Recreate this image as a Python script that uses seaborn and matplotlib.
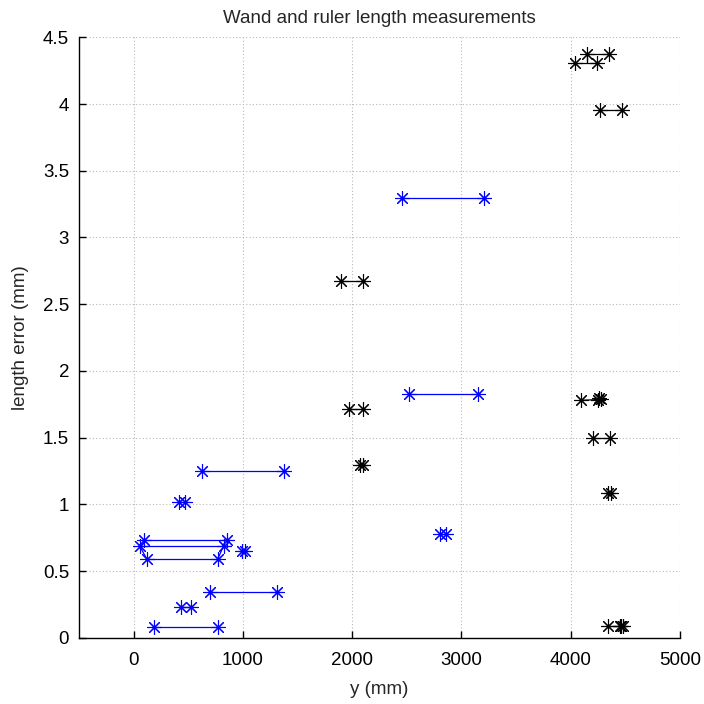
import numpy as np
import pandas as pd
import matplotlib
matplotlib.use("Agg")
import matplotlib.pyplot as plt
import seaborn as sns

# ---- data: each measurement drawn as a segment between two ends ----
wand_x1 = [2458, 2520, 626, 420, 2802, 98, 55, 990, 122, 702, 437, 190]
wand_x2 = [3205, 3150, 1380, 473, 2863, 855, 825, 1020, 770, 1313, 528, 770]
wand_y1 = [3.294, 1.830, 1.250, 1.020, 0.777, 0.732, 0.690, 0.652, 0.590, 0.345, 0.232, 0.082]
wand_y2 = [3.294, 1.830, 1.250, 1.020, 0.777, 0.732, 0.690, 0.652, 0.590, 0.345, 0.232, 0.082]

ruler_x1 = [4035, 4148, 4267, 1902, 1970, 4095, 4255, 4208, 2075, 4345, 4343, 4455]
ruler_x2 = [4240, 4350, 4469, 2099, 2097, 4250, 4275, 4355, 2095, 4365, 4462, 4475]
ruler_y1 = [4.305, 4.375, 3.955, 2.676, 1.712, 1.780, 1.800, 1.495, 1.295, 1.087, 0.088, 0.090]
ruler_y2 = [4.305, 4.375, 3.955, 2.676, 1.712, 1.785, 1.790, 1.495, 1.295, 1.087, 0.088, 0.092]

# connector strokes (no markers)
conn_wand_x = [[55, 122], [770, 825]]
conn_wand_y = [[0.690, 0.590], [0.590, 0.690]]
conn_ruler_x = [[4148, 4148]]
conn_ruler_y = [[4.375, 4.305]]

xticks = [0, 1000, 2000, 3000, 4000, 5000]
yticks = [0, 0.5, 1, 1.5, 2, 2.5, 3, 3.5, 4, 4.5]
ytick_labels = ["0", "0.5", "1", "1.5", "2", "2.5", "3", "3.5", "4", "4.5"]


def to_long(x1, x2, y1, y2):
    rows = []
    for i, (a, b, c, d) in enumerate(zip(x1, x2, y1, y2)):
        rows.append(dict(seg=i, order=0, x=a, y=c))
        rows.append(dict(seg=i, order=1, x=b, y=d))
    return pd.DataFrame(rows)


def conn_long(xs, ys):
    rows = []
    for i, (xx, yy) in enumerate(zip(xs, ys)):
        for j, (a, c) in enumerate(zip(xx, yy)):
            rows.append(dict(seg=i, order=j, x=a, y=c))
    return pd.DataFrame(rows)


wand = to_long(wand_x1, wand_x2, wand_y1, wand_y2)
ruler = to_long(ruler_x1, ruler_x2, ruler_y1, ruler_y2)
cw = conn_long(conn_wand_x, conn_wand_y)
cr = conn_long(conn_ruler_x, conn_ruler_y)

sns.set_style("white")
plt.rcParams["font.family"] = ["Liberation Sans", "DejaVu Sans"]
plt.rcParams["font.size"] = 13.5

fig = plt.figure(figsize=(7.04, 7.04), dpi=100)
ax = fig.add_axes([0.112, 0.094, 0.854, 0.853])

ast = (8, 2, 0)
for df, col in [(wand, "blue"), (ruler, "black")]:
    sns.lineplot(data=df, x="x", y="y", units="seg", estimator=None, sort=False,
                 color=col, lw=0.9, marker=ast, markersize=10.5,
                 markeredgecolor=col, markerfacecolor=col, markeredgewidth=0.8,
                 ax=ax, legend=False, zorder=3)
for df, col in [(cw, "blue"), (cr, "black")]:
    sns.lineplot(data=df, x="x", y="y", units="seg", estimator=None, sort=False,
                 color=col, lw=0.9, ax=ax, legend=False, zorder=3)

ax.set_xlim(-500, 5000)
ax.set_ylim(0, 4.5)
ax.set_xticks(xticks)
ax.set_yticks(yticks)
ax.set_yticklabels(ytick_labels)
ax.grid(True, color="#b8b8b8", linestyle=(0, (1, 2)), linewidth=0.8)
ax.set_axisbelow(True)
for s in ["top", "right"]:
    ax.spines[s].set_visible(False)
for s in ["left", "bottom"]:
    ax.spines[s].set_color("black")
    ax.spines[s].set_linewidth(1.0)
ax.tick_params(direction="in", length=5, width=1, colors="black", labelsize=13.5,
               left=True, bottom=True)
ax.tick_params(axis="x", pad=10)
ax.tick_params(axis="y", pad=7)
ax.set_xlabel("y (mm)", fontsize=13.5, labelpad=9)
ax.set_ylabel("length error (mm)", fontsize=13.5, labelpad=10)
ax.set_title("Wand and ruler length measurements", fontsize=13.5, pad=10)

fig.savefig("out.png", dpi=100)
